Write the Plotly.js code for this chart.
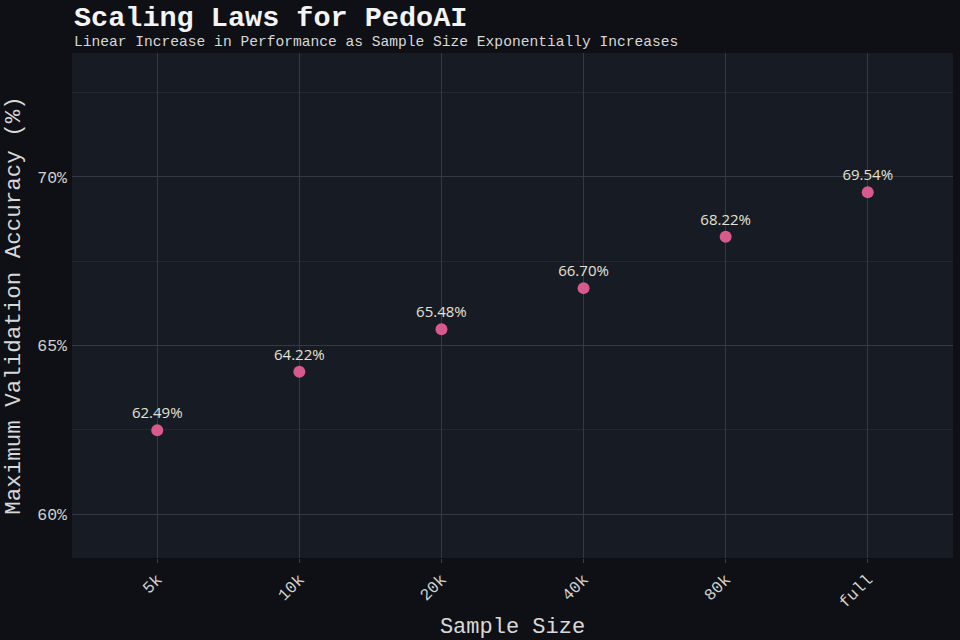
<!DOCTYPE html>
<html>
<head>
<meta charset="utf-8">
<script src="https://cdn.plot.ly/plotly-3.0.1.min.js"></script>
<style>
  html, body { margin: 0; padding: 0; background: #0e1015; }
  #chart { width: 960px; height: 640px; }
</style>
</head>
<body>
<div id="chart"></div>
<script>
"use strict";

// sample sizes and their best validation accuracy (%)
var sampleSizes = ["5k", "10k", "20k", "40k", "80k", "full"];
var accuracy = [62.49, 64.22, 65.48, 66.70, 68.22, 69.54];
var accuracyLabels = accuracy.map(function (v) { return v.toFixed(2) + "%"; });

var mono = "Liberation Mono, DejaVu Sans Mono, monospace";
var sans = "Open Sans, Noto Sans, sans-serif";

var trace = {
    x: sampleSizes,
    y: accuracy,
    type: "scatter",
    mode: "markers+text",
    text: accuracyLabels,
    textposition: "top center",
    textfont: { family: sans, size: 15, color: "#e6e1d3" },
    marker: { size: 12, color: "#d65a8b" },
    hoverinfo: "x+y",
    cliponaxis: false
};

var layout = {
    width: 960,
    height: 640,
    paper_bgcolor: "#0e1015",
    plot_bgcolor: "#171b23",
    margin: { l: 72, r: 7, t: 53, b: 82 },
    showlegend: false,
    xaxis: {
        type: "category",
        range: [-0.6, 5.6],
        tickangle: -45,
        tickfont: { family: mono, size: 16.5, color: "#d0d0d0" },
        ticks: "outside",
        ticklen: 4,
        tickcolor: "#3a3f4a",
        showgrid: true,
        gridcolor: "#343946",
        gridwidth: 1,
        zeroline: false,
        showline: false,
        title: { text: "Sample Size", font: { family: mono, size: 22, color: "#d8d8d8" }, standoff: 11 }
    },
    yaxis: {
        range: [58.7, 73.67],
        dtick: 5,
        tick0: 60,
        ticksuffix: "%",
        tickfont: { family: mono, size: 16.5, color: "#d0d0d0" },
        ticks: "",
        ticklabelstandoff: 4,
        showgrid: true,
        gridcolor: "#343946",
        gridwidth: 1,
        minor: { dtick: 2.5, showgrid: true, gridcolor: "#222731", gridwidth: 1 },
        zeroline: false,
        showline: false,
        title: { text: "Maximum Validation Accuracy (%)", font: { family: mono, size: 22.5, color: "#d8d8d8" }, standoff: 10 }
    },
    annotations: [
        {
            text: "<b>Scaling Laws for PedoAI</b>",
            xref: "paper", yref: "paper",
            x: 0, y: 1.0693,
            xanchor: "left", yanchor: "middle",
            showarrow: false,
            font: { family: mono, size: 28.5, color: "#f4f4f4" }
        },
        {
            text: "Linear Increase in Performance as Sample Size Exponentially Increases",
            xref: "paper", yref: "paper",
            x: 0, y: 1.0218,
            xanchor: "left", yanchor: "middle",
            showarrow: false,
            font: { family: mono, size: 14.6, color: "#d8d8d8" }
        }
    ]
};

Plotly.newPlot("chart", [trace], layout, { displayModeBar: false, staticPlot: true });
</script>
</body>
</html>
